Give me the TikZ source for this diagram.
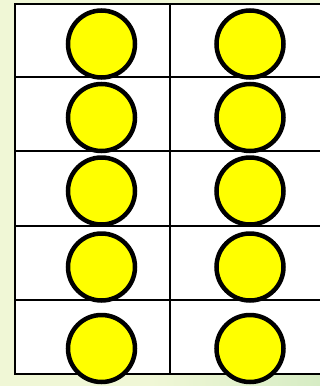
\documentclass[tikz,border=0pt]{standalone}
\usetikzlibrary{shadings}
\definecolor{bgg}{RGB}{240,247,214}
\definecolor{bgd}{RGB}{214,236,196}
\definecolor{ball}{RGB}{255,255,0}
\begin{document}
\begin{tikzpicture}[x=1pt,y=-1pt,
  gridline/.style={line width=2pt,black},
  ballnode/.style={circle,draw=black,line width=4.5pt,fill=ball,minimum size=67pt,inner sep=0pt}]
\useasboundingbox (0,0) rectangle (320,386);
\fill[bgg] (0,0) rectangle (320,386);
\shade[left color=bgg,right color=bgd] (150,374) rectangle (320,386);
\fill[white] (15,3.5) rectangle (321,374);
% grid
\draw[gridline] (321,3.5) -- (15,3.5) -- (15,374) -- (321,374);
\draw[gridline] (15,77) -- (321,77);
\draw[gridline] (15,151) -- (321,151);
\draw[gridline] (15,226) -- (321,226);
\draw[gridline] (15,300) -- (321,300);
\draw[gridline] (170,3.5) -- (170,374);
% balls
\foreach \y [count=\i] in {44,117.5,191,267,348.5}{
  \node[ballnode] (l\i) at (101.5,\y) {};
  \node[ballnode] (r\i) at (250,\y) {};
}
\end{tikzpicture}
\end{document}
